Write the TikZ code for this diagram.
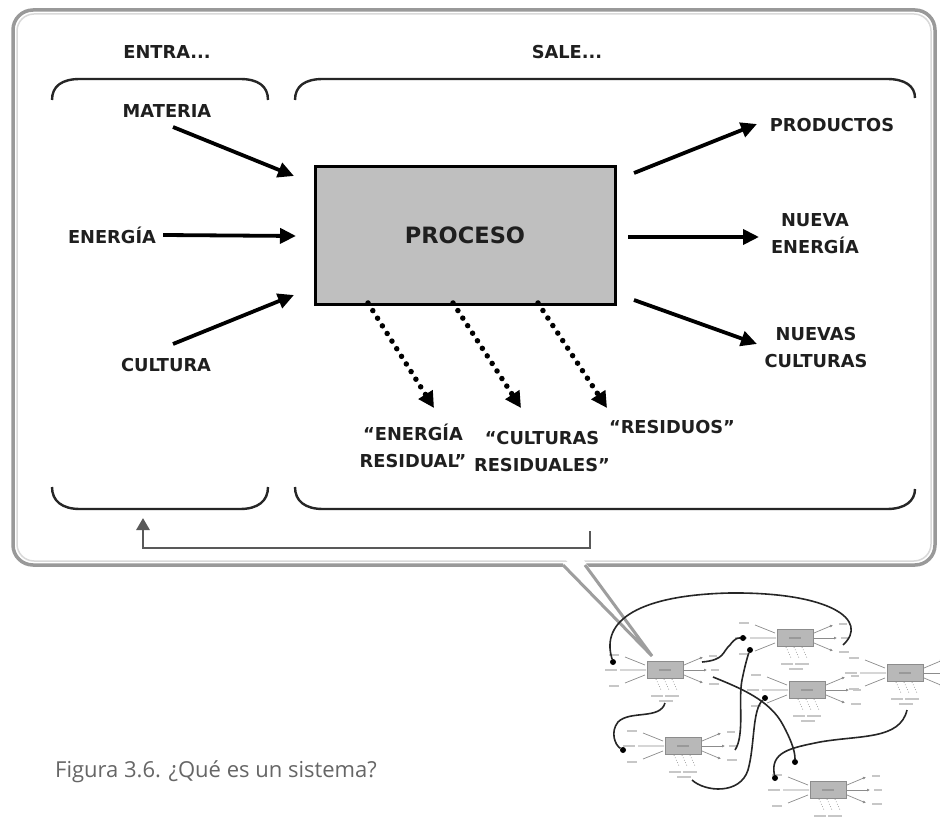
\documentclass[tikz,border=0pt]{standalone}
\usepackage{fontspec}
\setmainfont{DejaVu Sans}
\newfontfamily\capfont{Open Sans}
\usetikzlibrary{arrows.meta}
\tikzset{
  lbl/.style={font=\bfseries\fontsize{17.8}{27}\selectfont, text=black!88, align=center, inner sep=0pt},
  bigarrow/.style={line width=3.8pt, black, -{Triangle[length=16pt,width=15pt]}},
  dotarrow/.style={line width=5.5pt, black, line cap=round, dash pattern=on 0pt off 9pt, -{Triangle[length=16pt,width=16pt,line cap=butt]}},
  brace/.style={line width=2.4pt, black!85},
  frameline/.style={line width=3.5pt, black!40},
  miniline/.style={line width=0.7pt, black!45},
  minitxt/.style={line width=2pt, black!22},
  link/.style={line width=1.6pt, black!85},
  linkdot/.style={circle, fill=black, inner sep=0pt, minimum size=6pt},
  pics/mini/.style={code={
    \draw[miniline] (-40,-13)--(-20,-5) (-45,0)--(-19,0) (-40,13)--(-20,5);
    \draw[miniline,-{Latex[length=3pt,width=3pt]}] (19,-5)--(38,-13);
    \draw[miniline,-{Latex[length=3pt,width=3pt]}] (19,0)--(42,0);
    \draw[miniline,-{Latex[length=3pt,width=3pt]}] (19,5)--(38,13);
    \draw[miniline,dotted] (-9,9)--(-4,20) (-1,9)--(4,20) (7,9)--(12,20);
    \draw[minitxt] (-56,-15)--(-46,-15) (-60,0)--(-48,0) (-56,16)--(-46,16)
       (44,-14)--(52,-14) (46,0)--(54,0) (44,14)--(54,14) (-14,26)--(-2,26) (0,26)--(14,26) (-6,31)--(8,31);
    \node[draw=black!45, fill=black!28, line width=0.7pt, minimum width=36pt, minimum height=17pt, inner sep=0pt] (-box) at (0,0) {};
    \draw[black!40, line width=1.2pt] (-6,0)--(6,0);
  }}
}
\begin{document}
\begin{tikzpicture}[x=1pt,y=-1pt]
\useasboundingbox (0,0) rectangle (940,818);
\fill[white] (0,0) rectangle (940,818);

% frame (open callout at the bottom)
\draw[frameline, rounded corners=20pt] (563,565) -- (13,565) -- (13,10) -- (935,10) -- (935,565) -- (585,565);
\draw[black!15, line width=1.5pt, rounded corners=17pt] (17,14) rectangle (931,561);
\fill[white] (565,559) -- (583,559) -- (652,655) -- cycle;
\draw[line width=3pt, black!38] (563,565) -- (652,656) -- (585,565);

% headings
\node[lbl] (entra) at (167,52) {ENTRA...};
\node[lbl] (sale) at (567,52) {SALE...};

% braces
\draw[brace] (52,100) .. controls (52,86) and (62,79) .. (80,79) -- (240,79) .. controls (258,79) and (268,86) .. (268,100);
\draw[brace] (295,100) .. controls (295,86) and (305,79) .. (323,79) -- (887,79) .. controls (905,79) and (915,86) .. (915,98);
\draw[brace] (52,487) .. controls (52,501) and (62,509) .. (80,509) -- (240,509) .. controls (258,509) and (268,501) .. (268,487);
\draw[brace] (295,487) .. controls (295,501) and (305,509) .. (323,509) -- (887,509) .. controls (905,509) and (915,501) .. (915,489);

% process box
\node[draw=black, line width=3pt, fill=black!25, minimum width=300pt, minimum height=138pt, inner sep=0pt] (proc) at (465,236) {};
\node[lbl, font=\bfseries\fontsize{22.5}{25}\selectfont] (proctxt) at (465,235) {PROCESO};

% inputs
\node[lbl] (materia) at (167,111) {MATERIA};
\node[lbl] (energia) at (112,235) {ENERGÍA};
\node[lbl] (cultura) at (166,365) {CULTURA};
\coordinate (inA) at (294,176);
\coordinate (inB) at (296,236);
\coordinate (inC) at (294,295);
\draw[bigarrow] (173,127) -- (inA);
\draw[bigarrow] (energia.east) ++(7,0) -- (inB);
\draw[bigarrow] (173,344) -- (inC);

% outputs
\node[lbl] (prod) at (832,125) {PRODUCTOS};
\node[lbl] (nener) at (815,234) {NUEVA\\ENERGÍA};
\node[lbl] (ncult) at (816,348) {NUEVAS\\CULTURAS};
\coordinate (outA) at (634,173);
\coordinate (outB) at (628,237);
\coordinate (outC) at (634,300);
\draw[bigarrow] (outA) -- (757,124);
\draw[bigarrow] (outB) -- (759,237);
\draw[bigarrow] (outC) -- (757,344);

% residual outputs
\node[lbl] (eres) at (413,446) {“ENERGÍA\\RESIDUAL”};
\node[lbl] (cres) at (542,452) {“CULTURAS\\RESIDUALES”};
\node[lbl] (resid) at (672,427) {“RESIDUOS”};
\coordinate (dA) at (368,303);
\coordinate (dB) at (453,303);
\coordinate (dC) at (538,303);
\draw[dotarrow] (dA) -- (434,408);
\draw[dotarrow] (dB) -- (521,408);
\draw[dotarrow] (dC) -- (607,408);

% feedback
\coordinate (fb0) at (590,531);
\coordinate (fb1) at (143,518);
\draw[line width=2.8pt, black!65, -{Triangle[length=12pt,width=13pt]}] (fb0) |- (143,548) -- (fb1);

% caption
\node[font=\capfont\fontsize{22}{24}\selectfont, text=black!60, anchor=base west, inner sep=0pt] (cap) at (55,777) {Figura 3.6. ¿Qué es un sistema?};

% thumbnail network
\pic (mA) at (665,670) {mini};
\pic (mB) at (795,638) {mini};
\pic (mC) at (807,690) {mini};
\pic (mD) at (905,673) {mini};
\pic (mE) at (683,746) {mini};
\pic (mF) at (828,790) {mini};

\node[linkdot] (e1) at (613,662) {};
\node[linkdot] (e2) at (743,638) {};
\node[linkdot] (e3) at (795,762) {};
\node[linkdot] (e4) at (623,750) {};
\node[linkdot] (e5) at (750,650) {};
\node[linkdot] (e6) at (765,698) {};
\node[linkdot] (e7) at (775,778) {};
\draw[link] (e1) .. controls (600,620) and (640,595) .. (730,593) .. controls (830,592) and (870,620) .. (843,645);
\draw[link] (702,662) .. controls (725,660) and (722,652) .. (730,645) .. controls (735,638) and (738,638) .. (e2);
\draw[link] (713,677) .. controls (740,688) and (770,700) .. (783,725) .. controls (790,738) and (795,750) .. (e3);
\draw[link] (665,703) .. controls (660,720) and (630,710) .. (618,722) .. controls (610,732) and (615,745) .. (e4);
\draw[link] (735,750) .. controls (745,735) and (738,700) .. (742,680) .. controls (745,665) and (748,655) .. (e5);
\draw[link] (692,780) .. controls (705,792) and (740,795) .. (748,770) .. controls (755,745) and (752,710) .. (e6);
\draw[link] (907,710) .. controls (900,740) and (860,735) .. (820,742) .. controls (790,748) and (770,752) .. (e7);
\end{tikzpicture}
\end{document}
